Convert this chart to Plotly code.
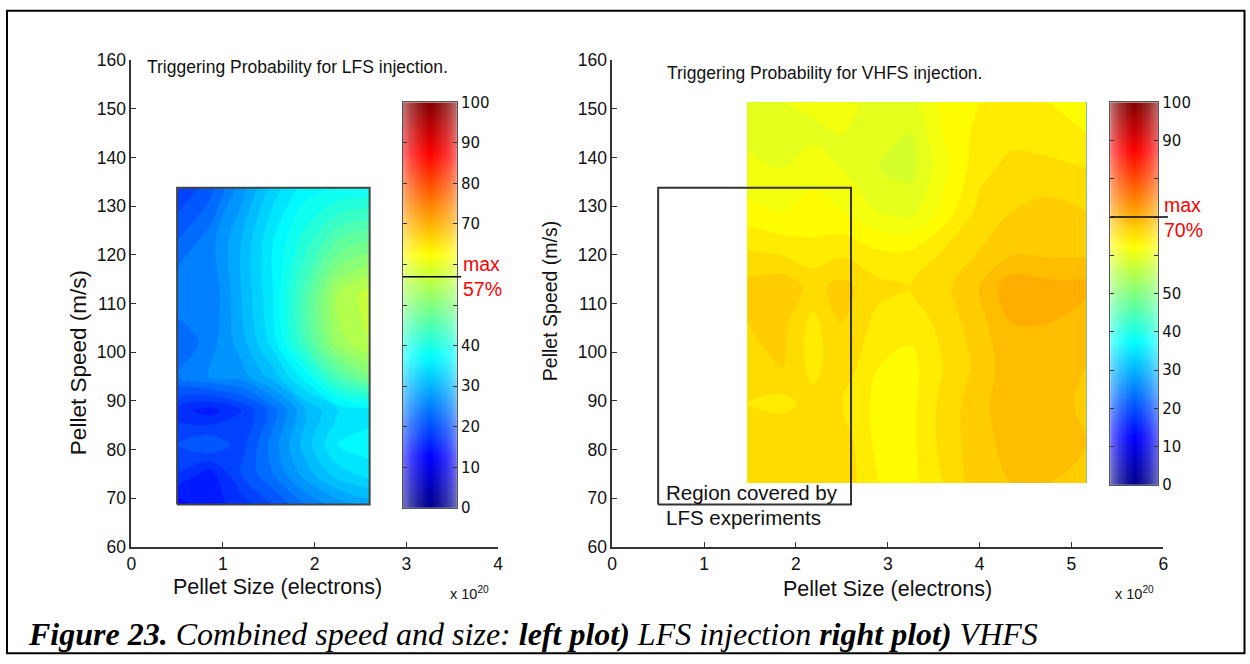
import plotly.graph_objects as go

# ---------------- data ----------------
# LFS injection (left plot): pellet size (x 1e20 electrons), speed (m/s), probability (%)
size_lfs = [0.5, 0.85, 1.2, 1.55, 1.9, 2.25, 2.6]
speed_lfs = [68.7, 75, 81, 88, 95, 102, 112, 123, 133.8]
prob_lfs = [
    [13, 15, 17, 20, 24, 27, 29],   # 68.7
    [18, 15, 20, 24, 29, 33, 35],   # 75
    [20, 22, 19, 25, 31, 36, 37],   # 81
    [17, 15, 18, 23, 30, 34, 35],   # 88
    [24, 26, 27, 31, 37, 45, 50],   # 95
    [22, 25, 29, 35, 44, 53, 56],   # 102
    [26, 24, 30, 36, 45, 54, 57],   # 112
    [22, 25, 30, 36, 41, 46, 48],   # 123
    [18, 21, 27, 33, 37, 38, 38],   # 133.8
]

# VHFS injection (right plot)
size_vhfs = [1.47, 1.85, 2.18, 2.5, 2.9, 3.25, 3.6, 4.0, 4.35, 4.75, 5.16]
speed_vhfs = [73.1, 81, 89.5, 97, 106, 113.5, 121, 129, 137.8, 145, 151.4]
prob_vhfs = [
    [65.5, 65.5, 64.5, 65.5, 63.0, 62.5, 64.5, 67.0, 67.5, 67.5, 67.5],
    [66.0, 66.0, 65.0, 65.5, 62.5, 62.5, 65.0, 67.0, 68.0, 68.0, 67.5],
    [64.5, 64.0, 65.0, 64.5, 62.5, 62.5, 65.0, 67.0, 68.5, 68.5, 67.0],
    [65.5, 66.0, 64.0, 65.5, 63.0, 62.5, 64.5, 66.5, 68.5, 68.0, 67.5],
    [66.0, 66.5, 64.0, 66.0, 64.0, 63.5, 65.0, 67.0, 69.0, 69.0, 68.0],
    [66.5, 67.0, 65.5, 66.5, 65.0, 64.5, 65.5, 67.5, 70.0, 69.5, 69.5],
    [64.5, 64.0, 63.5, 64.0, 63.0, 63.0, 64.5, 66.0, 67.0, 67.0, 67.0],
    [62.0, 61.5, 62.0, 61.5, 60.0, 59.5, 62.0, 65.0, 66.0, 66.5, 66.0],
    [60.5, 60.0, 61.0, 60.0, 58.5, 58.0, 61.0, 64.0, 65.0, 65.0, 64.5],
    [59.5, 60.0, 59.5, 60.0, 59.0, 58.5, 61.5, 63.5, 64.0, 63.5, 63.0],
    [59.0, 60.0, 60.5, 60.5, 59.5, 59.5, 62.0, 63.0, 63.5, 63.0, 62.5],
]

cb_ticks = [0, 10, 20, 30, 40, 50, 60, 70, 80, 90, 100]
x_ticks_left = [0, 1, 2, 3, 4]
x_ticks_right = [0, 1, 2, 3, 4, 5, 6]
y_ticks = [60, 70, 80, 90, 100, 110, 120, 130, 140, 150, 160]

# ---------------- layout helpers ----------------
W, H = 1250, 664
# map a target position in the final picture to figure paper coordinates
# (compensates the offset/scale applied when the page is photographed)
SX0, SXK = 6.0, 0.99
SY0, SYK = 8.6, 0.971
def X(px):
    return ((px - SX0) / SXK) / W
def Y(py):
    return 1 - ((py - SY0) / SYK) / H
def clampx(v):
    return min(max(v, 0.5 / W), 1 - 0.5 / W)
def clampy(v):
    return min(max(v, 0.8 / H), 1 - 0.8 / H)

jet = [[0, 'rgb(0,0,135)'], [0.125, 'rgb(0,0,255)'], [0.375, 'rgb(0,255,255)'],
       [0.625, 'rgb(255,255,0)'], [0.875, 'rgb(255,0,0)'], [1, 'rgb(128,0,0)']]

AX = '#333333'
FONT = 'Liberation Sans'

fig = go.Figure()

# left contour
fig.add_trace(go.Contour(
    x=size_lfs, y=speed_lfs, z=prob_lfs, colorscale=jet, zmin=0, zmax=100,
    autocontour=False, contours=dict(start=0, end=100, size=2, coloring='fill', showlines=False),
    line=dict(width=0), showscale=False, xaxis='x', yaxis='y', hoverinfo='skip'))
xs0, xs1 = min(size_lfs), max(size_lfs)
ys0, ys1 = min(speed_lfs), max(speed_lfs)
fig.add_trace(go.Scatter(x=[xs0, xs1, xs1, xs0, xs0], y=[ys0, ys0, ys1, ys1, ys0],
                         mode='lines', line=dict(color='#444', width=2),
                         xaxis='x', yaxis='y', showlegend=False, hoverinfo='skip'))

# right contour
fig.add_trace(go.Contour(
    x=size_vhfs, y=speed_vhfs, z=prob_vhfs, colorscale=jet, zmin=0, zmax=100,
    autocontour=False, contours=dict(start=0, end=100, size=1.5, coloring='fill', showlines=False),
    line=dict(width=0), showscale=False, xaxis='x2', yaxis='y2', hoverinfo='skip'))
fig.add_trace(go.Scatter(x=[xs0, xs1, xs1, xs0, xs0], y=[ys0, ys0, ys1, ys1, ys0],
                         mode='lines', line=dict(color='#333', width=2),
                         xaxis='x2', yaxis='y2', showlegend=False, hoverinfo='skip'))

# colorbars drawn as heatmaps with a light edge shading
ncol = 21
cb_levels = [i * 0.5 for i in range(201)]
cb_cols = [(c + 0.5) / ncol for c in range(ncol)]
cb_z = [[v for _ in cb_cols] for v in cb_levels]
shade_z = [[abs(c - 0.5) * 2 for c in cb_cols] for _ in cb_levels]
shade_scale = [[0, 'rgba(255,255,255,0)'], [0.35, 'rgba(255,255,255,0.1)'],
               [0.7, 'rgba(255,255,255,0.25)'], [1, 'rgba(255,255,255,0.45)']]
for xa, ya in (('x3', 'y3'), ('x4', 'y4')):
    fig.add_trace(go.Heatmap(x=cb_cols, y=cb_levels, z=cb_z, colorscale=jet, zmin=0, zmax=100,
                             showscale=False, zsmooth='best', xaxis=xa, yaxis=ya, hoverinfo='skip'))
    fig.add_trace(go.Heatmap(x=cb_cols, y=cb_levels, z=shade_z, colorscale=shade_scale, zmin=0, zmax=1,
                             showscale=False, zsmooth='best', xaxis=xa, yaxis=ya, hoverinfo='skip'))

max_l = round(max(max(r) for r in prob_lfs))
max_r = round(max(max(r) for r in prob_vhfs))

def cb_text(m):
    return [('' if abs(v - m) <= 10 else str(v)) for v in cb_ticks]

tickfont = dict(family=FONT, size=17.5, color='#111')
common_x = dict(showline=True, linecolor=AX, linewidth=1.5, ticks='inside', ticklen=5,
                tickcolor=AX, tickfont=tickfont, showgrid=False, zeroline=False, mirror=False)
common_y = dict(showline=True, linecolor=AX, linewidth=1.5, ticks='inside', ticklen=5,
                tickcolor=AX, tickfont=tickfont, showgrid=False, zeroline=False, mirror=False,
                range=[60, 160], tickvals=y_ticks)
cb_y = dict(range=[0, 100], tickvals=cb_ticks, side='right', ticks='inside', ticklen=4,
            tickcolor='#333', showline=True, mirror='ticks', linecolor='#555', linewidth=1,
            tickfont=dict(family='DejaVu Sans', size=15, color='#111'), showgrid=False, zeroline=False)
cb_x = dict(range=[0, 1], showticklabels=False, ticks='', showline=True, mirror=True,
            linecolor='#555', linewidth=1, showgrid=False, zeroline=False)

fig.update_layout(
    width=W, height=H, margin=dict(l=0, r=0, t=0, b=0),
    paper_bgcolor='white', plot_bgcolor='rgba(0,0,0,0)', showlegend=False,
    xaxis=dict(domain=[X(132), X(498)], range=[0, 4], tickvals=x_ticks_left, anchor='y', **common_x),
    yaxis=dict(domain=[Y(546), Y(59)], anchor='x', **common_y),
    xaxis2=dict(domain=[X(612), X(1162)], range=[0, 6], tickvals=x_ticks_right, anchor='y2', **common_x),
    yaxis2=dict(domain=[Y(546), Y(59)], anchor='x2', **common_y),
    xaxis3=dict(domain=[X(403), X(457)], anchor='y3', **cb_x),
    yaxis3=dict(domain=[Y(507), Y(101)], anchor='x3', ticktext=cb_text(max_l), **cb_y),
    xaxis4=dict(domain=[X(1109), X(1157)], anchor='y4', **cb_x),
    yaxis4=dict(domain=[Y(484), Y(101)], anchor='x4', ticktext=cb_text(max_r), **cb_y),
)

# max lines on colorbars
fig.add_shape(type='line', xref='x3 domain', yref='y3', x0=0, x1=1.08, y0=max_l, y1=max_l,
              line=dict(color='black', width=1.5))
fig.add_shape(type='line', xref='x4 domain', yref='y4', x0=0, x1=1.2, y0=max_r, y1=max_r,
              line=dict(color='black', width=1.5))

red = dict(family=FONT, size=19.5, color='#ff0000')
ann = []
ann.append(dict(xref='x3 domain', yref='y3', x=1.08, y=max_l, text=f'max<br>{max_l}%',
                xanchor='left', yanchor='middle', showarrow=False, font=red, align='left'))
ann.append(dict(xref='x4 domain', yref='y4', x=1.08, y=max_r, text=f'max<br>{max_r}%',
                xanchor='left', yanchor='middle', showarrow=False, font=red, align='left'))

title_font = dict(family=FONT, size=17.5, color='#111')
ann.append(dict(xref='paper', yref='paper', x=X(146), y=Y(66), text='Triggering Probability for LFS injection.',
                xanchor='left', yanchor='middle', showarrow=False, font=title_font))
ann.append(dict(xref='paper', yref='paper', x=X(665), y=Y(72), text='Triggering Probability for VHFS injection.',
                xanchor='left', yanchor='middle', showarrow=False, font=title_font))

lab_font = dict(family=FONT, size=21.5, color='#111')
ann.append(dict(xref='paper', yref='paper', x=X(278), y=Y(586), text='Pellet Size (electrons)',
                xanchor='center', yanchor='middle', showarrow=False, font=lab_font))
ann.append(dict(xref='paper', yref='paper', x=X(887), y=Y(588), text='Pellet Size (electrons)',
                xanchor='center', yanchor='middle', showarrow=False, font=lab_font))
ann.append(dict(xref='paper', yref='paper', x=X(80), y=Y(362), text='Pellet Speed (m/s)', textangle=-90,
                xanchor='center', yanchor='middle', showarrow=False, font=dict(family=FONT, size=22.5, color='#111')))
ann.append(dict(xref='paper', yref='paper', x=X(550), y=Y(300), text='Pellet Speed (m/s)', textangle=-90,
                xanchor='center', yanchor='middle', showarrow=False, font=dict(family=FONT, size=19.5, color='#111')))

exp_font = dict(family=FONT, size=14.5, color='#111')
ann.append(dict(xref='paper', yref='paper', x=X(470), y=Y(592), text='x 10<sup>20</sup>',
                xanchor='center', yanchor='middle', showarrow=False, font=exp_font))
ann.append(dict(xref='paper', yref='paper', x=X(1133), y=Y(592), text='x 10<sup>20</sup>',
                xanchor='center', yanchor='middle', showarrow=False, font=exp_font))

reg_font = dict(family=FONT, size=20.5, color='#111')
ann.append(dict(xref='paper', yref='paper', x=X(664), y=Y(492), text='Region covered by',
                xanchor='left', yanchor='middle', showarrow=False, font=reg_font))
ann.append(dict(xref='paper', yref='paper', x=X(664), y=Y(517), text='LFS experiments',
                xanchor='left', yanchor='middle', showarrow=False, font=reg_font))

caption = ('<b><i>Figure 23.</i></b><i> Combined speed and size: </i><b><i>left plot)</i></b>'
           '<i> LFS injection </i><b><i>right plot)</i></b><i> VHFS</i>')
ann.append(dict(xref='paper', yref='paper', x=X(27), y=Y(633), text=caption,
                xanchor='left', yanchor='middle', showarrow=False,
                font=dict(family='Liberation Serif', size=32, color='black')))

fig.update_layout(annotations=ann)

# outer frame
fig.add_shape(type='rect', xref='paper', yref='paper',
              x0=clampx(X(8)), x1=clampx(X(1243)), y0=clampy(Y(658)), y1=clampy(Y(8)),
              line=dict(color='black', width=2), fillcolor='rgba(0,0,0,0)')

fig.write_html('out.html')
